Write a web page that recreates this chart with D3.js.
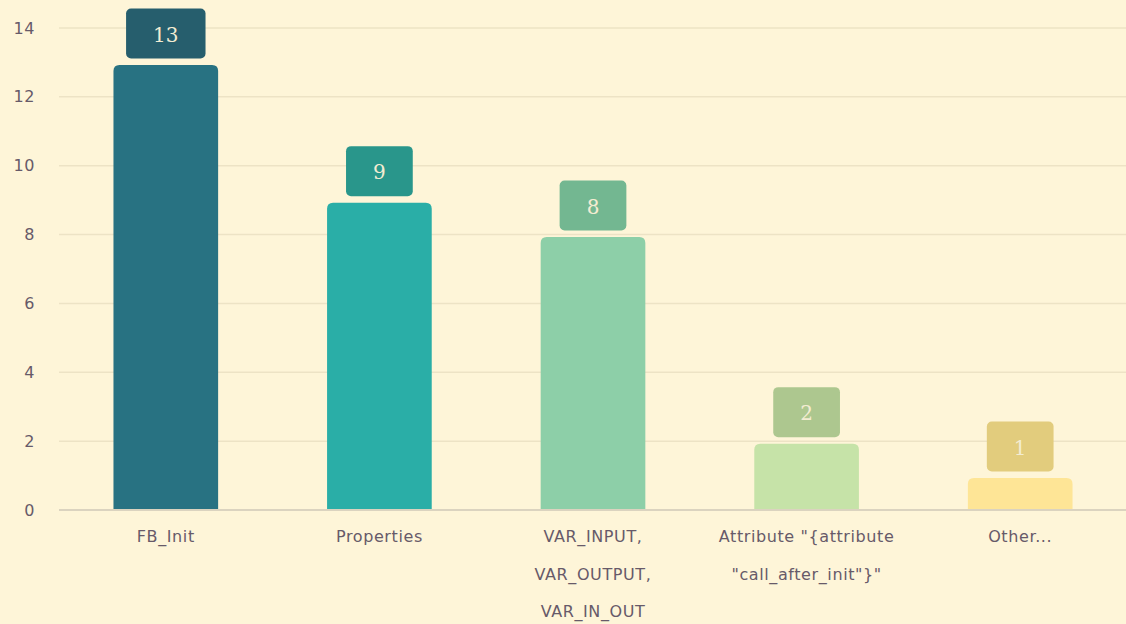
<!DOCTYPE html>
<html><head><meta charset="utf-8">
<script src="https://cdn.jsdelivr.net/npm/d3@7"></script>
<style>
html,body{margin:0;padding:0;background:#fef5d8;}
svg{display:block;}
</style></head><body>
<svg id="chart" width="1126" height="624"></svg>
<script>
const categories = ["FB_Init", "Properties", "VAR_INPUT,\nVAR_OUTPUT,\nVAR_IN_OUT", "Attribute \"{attribute\n\"call_after_init\"}\"", "Other..."];
const values = [13, 9, 8, 2, 1];
const barColors = ["#287282", "#2aaea7", "#8dcfa8", "#c6e3a8", "#fee596"];
const labelColors = ["#265e6d", "#29968b", "#73b791", "#adc78f", "#e2cc7d"];
const yTicks = [0, 2, 4, 6, 8, 10, 12, 14];

(function () {
const svg = d3.select("#chart");
const W = 1126, H = 624;
const mLeft = 59, mRight = 1127, mTop = 28, mBottom = 510;
const txtFont = "'DejaVu Sans', sans-serif";
const txtColor = "#675a69";

svg.append("rect").attr("width", W).attr("height", H).attr("fill", "#fef5d8");

const x = d3.scaleBand().domain(categories).range([mLeft, mRight]).paddingInner(0.51).paddingOuter(0.255);
const y = d3.scaleLinear().domain([0, 14]).range([mBottom, mTop]);

// grid
svg.append("g").selectAll("line").data(yTicks.filter(d => d > 0)).join("line")
  .attr("x1", mLeft).attr("x2", W).attr("y1", d => y(d)).attr("y2", d => y(d))
  .attr("stroke", "#ede3c5").attr("stroke-width", 1.5);

// y tick labels
const yAxis = d3.axisLeft(y).tickValues(yTicks).tickSize(0).tickPadding(0);
const yg = svg.append("g").attr("transform", `translate(35,0)`).call(yAxis);
yg.select(".domain").remove();
yg.selectAll("text").attr("font-family", txtFont).attr("font-size", 16)
  .attr("letter-spacing", "0.6px")
  .attr("fill", txtColor).attr("dy", "0.32em");

// bars
const r = 6, gap = 2.5;
function barPath(x0, y0, w, h) {
  return `M${x0},${y0 + h} L${x0},${y0 + r} Q${x0},${y0} ${x0 + r},${y0} L${x0 + w - r},${y0} Q${x0 + w},${y0} ${x0 + w},${y0 + r} L${x0 + w},${y0 + h} Z`;
}
svg.append("g").selectAll("path").data(values).join("path")
  .attr("d", (d, i) => barPath(x(categories[i]), y(d) + gap, x.bandwidth(), y(0) - y(d) - gap))
  .attr("fill", (d, i) => barColors[i]);

// baseline
svg.append("line").attr("x1", mLeft).attr("x2", W).attr("y1", y(0)).attr("y2", y(0))
  .attr("stroke", "#dbd3bf").attr("stroke-width", 2);

// value labels
const lg = svg.append("g");
values.forEach((d, i) => {
  const cx = x(categories[i]) + x.bandwidth() / 2;
  const t = lg.append("text").text(d)
    .attr("x", cx).attr("text-anchor", "middle")
    .attr("font-family", "'DejaVu Serif', serif").attr("font-size", 20)
    .attr("fill", "#f3ecd2");
  const tw = t.node().getComputedTextLength();
  const bw = tw + 54, bh = 50;
  const by = y(d) + gap - 6.5 - bh;
  lg.insert("rect", "text").attr("x", cx - bw / 2).attr("y", by).attr("width", bw).attr("height", bh)
    .attr("rx", 5).attr("fill", labelColors[i]);
  t.attr("y", by + bh / 2 + 1).attr("dy", "0.36em");
});

// x labels
const xg = svg.append("g");
categories.forEach(c => {
  const lines = c.split("\n");
  const t = xg.append("text").attr("text-anchor", "middle")
    .attr("font-family", txtFont).attr("font-size", 16).attr("letter-spacing", "0.6px")
    .attr("fill", txtColor);
  lines.forEach((ln, j) => {
    t.append("tspan").attr("x", x(c) + x.bandwidth() / 2).attr("y", 542 + j * 37.5).text(ln);
  });
});
})();
</script>
</body></html>
